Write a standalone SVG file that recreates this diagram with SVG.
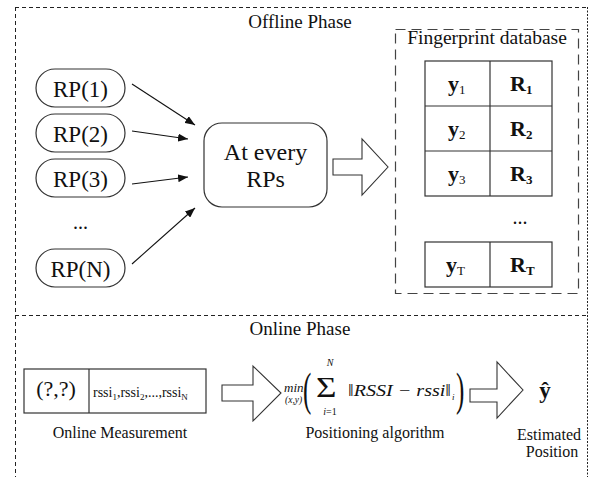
<svg xmlns="http://www.w3.org/2000/svg" width="590" height="477" viewBox="0 0 590 477">
<defs>
<style>
.t{fill:#111}
.frame{fill:none;stroke:#222;stroke-width:1;stroke-dasharray:4 3}
.db{fill:none;stroke:#444;stroke-width:1.2;stroke-dasharray:10 6}
.box{fill:#fff;stroke:#333;stroke-width:1.2}
.blk{fill:#fff;stroke:#333;stroke-width:1.1;stroke-linejoin:miter}
.con{stroke:#111;stroke-width:1.1;fill:none}
</style>
<marker id="ah" viewBox="0 0 10 8" refX="10" refY="4" markerWidth="10" markerHeight="8" markerUnits="userSpaceOnUse" orient="auto">
<path d="M0,0 L10,4 L0,8 Z" fill="#111"/>
</marker>
</defs>
<rect width="590" height="477" fill="#fff"/>
<g font-family="'Liberation Serif', 'Times New Roman', 'DejaVu Serif', serif">
<g id="frame">
<line class="frame" x1="15" y1="7.5" x2="588" y2="7.5"/>
<line class="frame" x1="15.5" y1="7" x2="15.5" y2="477"/>
<line class="frame" x1="587.5" y1="7" x2="587.5" y2="477" style="stroke-dasharray:2 1.5"/>
<line class="frame" x1="15" y1="315.5" x2="588" y2="315.5"/>
<text class="t" x="300" y="28" font-size="19" text-anchor="middle">Offline Phase</text>
<text class="t" x="300" y="335" font-size="19" text-anchor="middle">Online Phase</text>
</g>
<g id="rp1"><rect class="box" x="36" y="69" width="89" height="38" rx="19"/><text class="t" x="80.5" y="97" font-size="23" text-anchor="middle">RP(1)</text></g>
<g id="rp2"><rect class="box" x="36" y="114" width="89" height="38" rx="19"/><text class="t" x="80.5" y="142" font-size="23" text-anchor="middle">RP(2)</text></g>
<g id="rp3"><rect class="box" x="36" y="159" width="89" height="38" rx="19"/><text class="t" x="80.5" y="187" font-size="23" text-anchor="middle">RP(3)</text></g>
<g id="rpdots"><text class="t" x="80.5" y="229" font-size="20" text-anchor="middle">...</text></g>
<g id="rpN"><rect class="box" x="36" y="249" width="89" height="38" rx="19"/><text class="t" x="80.5" y="277" font-size="23" text-anchor="middle">RP(N)</text></g>
<g id="center"><rect class="box" x="204" y="123" width="123" height="84" rx="18"/><text class="t" x="265.5" y="160" font-size="24" text-anchor="middle">At every</text><text class="t" x="265.5" y="187" font-size="24" text-anchor="middle">RPs</text></g>
<g id="connectors">
<line class="con" x1="132" y1="84" x2="195" y2="125" marker-end="url(#ah)"/>
<line class="con" x1="132" y1="131" x2="188" y2="139" marker-end="url(#ah)"/>
<line class="con" x1="132" y1="184" x2="188" y2="177" marker-end="url(#ah)"/>
<line class="con" x1="132" y1="264" x2="195" y2="208" marker-end="url(#ah)"/>
<polygon class="blk" points="333,159 362,159 362,139 388,167 362,195 362,175 333,175"/>
<polygon class="blk" points="222,385 253,385 253,366 281,393 253,421 253,401 222,401"/>
<polygon class="blk" points="470,389 497,389 497,362 523,390 497,418 497,402 470,402"/>
</g>
<g id="database">
<rect class="db" x="395.5" y="29.5" width="183" height="264"/>
<text class="t" x="487" y="44" font-size="19.5" text-anchor="middle">Fingerprint database</text>
<g fill="none" stroke="#333" stroke-width="1.2">
<rect x="425" y="61" width="127" height="135"/>
<line x1="425" y1="106" x2="552" y2="106"/>
<line x1="425" y1="151" x2="552" y2="151"/>
<line x1="490" y1="61" x2="490" y2="196"/>
<rect x="425" y="242" width="127" height="45"/>
<line x1="490" y1="242" x2="490" y2="287"/>
</g>
<text class="t" x="448" y="91" font-size="22" font-weight="bold">y<tspan font-size="13" font-weight="normal" dy="3">1</tspan></text>
<text class="t" x="510" y="91" font-size="22" font-weight="bold">R<tspan font-size="13" dy="3">1</tspan></text>
<text class="t" x="448" y="136" font-size="22" font-weight="bold">y<tspan font-size="13" font-weight="normal" dy="3">2</tspan></text>
<text class="t" x="510" y="136" font-size="22" font-weight="bold">R<tspan font-size="13" dy="3">2</tspan></text>
<text class="t" x="448" y="181" font-size="22" font-weight="bold">y<tspan font-size="13" font-weight="normal" dy="3">3</tspan></text>
<text class="t" x="510" y="181" font-size="22" font-weight="bold">R<tspan font-size="13" dy="3">3</tspan></text>
<text class="t" x="520" y="224" font-size="20" text-anchor="middle">...</text>
<text class="t" x="446" y="272" font-size="22" font-weight="bold">y<tspan font-size="13" font-weight="normal" dy="3">T</tspan></text>
<text class="t" x="510" y="272" font-size="22" font-weight="bold">R<tspan font-size="13" dy="3">T</tspan></text>
</g>
<g id="measurement">
<rect class="box" x="24" y="369" width="182" height="44"/>
<line x1="89" y1="369" x2="89" y2="413" stroke="#333" stroke-width="1.2"/>
<text class="t" x="56" y="396" font-size="22" text-anchor="middle">(?,?)</text>
<text class="t" x="93" y="397" font-size="14">rssi<tspan font-size="9" dy="3">1</tspan><tspan dy="-3">,rssi</tspan><tspan font-size="9" dy="3">2</tspan><tspan dy="-3">,...,rssi</tspan><tspan font-size="9" dy="3">N</tspan></text>
<text class="t" x="120" y="438" font-size="16" text-anchor="middle">Online Measurement</text>
</g>
<g id="algorithm">
<text class="t" x="284" y="392" font-size="13" font-style="italic">min</text>
<text class="t" x="285" y="403" font-size="9.5" font-style="italic">(x,y)</text>
<text class="t" transform="translate(303,405) scale(1,1.9)" font-size="25">(</text>
<text class="t" transform="translate(316,397) scale(1.6,1.3)" font-size="22">Σ</text>
<text class="t" x="330" y="366" font-size="10" font-style="italic" text-anchor="middle">N</text>
<text class="t" x="330" y="415" font-size="10" text-anchor="middle"><tspan font-style="italic">i</tspan>=1</text>
<text class="t" x="348" y="396" font-size="16" font-style="italic" textLength="103" lengthAdjust="spacingAndGlyphs">‖RSSI − rssi‖</text>
<text class="t" x="452" y="400" font-size="9" font-style="italic">i</text>
<text class="t" transform="translate(456,405) scale(1,1.9)" font-size="25">)</text>
<text class="t" x="375" y="438" font-size="16" text-anchor="middle">Positioning algorithm</text>
</g>
<g id="estimate">
<text class="t" x="545" y="398" font-size="23" font-weight="bold" text-anchor="middle">ŷ</text>
<text class="t" x="549" y="440" font-size="16" text-anchor="middle">Estimated</text>
<text class="t" x="552" y="457" font-size="16" text-anchor="middle">Position</text>
</g>
</g>
</svg>
